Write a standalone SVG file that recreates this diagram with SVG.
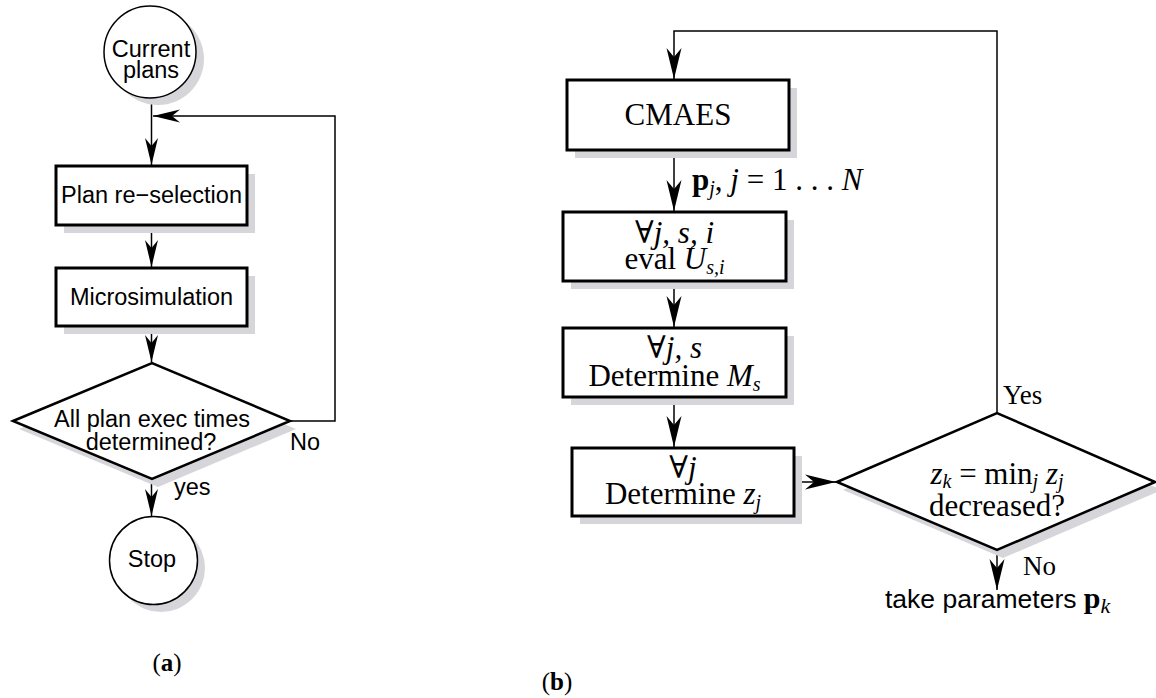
<svg xmlns="http://www.w3.org/2000/svg" width="1156" height="698" viewBox="0 0 1156 698">
<style>
.bg{fill:#ffffff}
.node{fill:#ffffff;stroke:#000000;stroke-width:3}
.dia{fill:#ffffff;stroke:#000000;stroke-width:2.5}
.circ{fill:#ffffff;stroke:#000000;stroke-width:1.5}
.sh{fill:#d6d5da;stroke:none}
.edge{fill:none;stroke:#000000;stroke-width:1.5}
.sans{font-family:"Liberation Sans",Arial,sans-serif;font-size:23.5px;fill:#000000}
.serif{font-family:"Liberation Serif","DejaVu Serif",serif;font-size:31px;fill:#000000}
.lbl{font-family:"Liberation Serif","DejaVu Serif",serif;font-size:27px;fill:#000000}
.tp{font-family:"Liberation Sans",Arial,sans-serif;font-size:26.5px;fill:#000000}
.cap{font-family:"Liberation Serif","DejaVu Serif",serif;font-size:25px;fill:#000000}
.it{font-style:italic}
.bf{font-weight:bold}
.sub{font-size:20px}
</style>
<defs>
<marker id="arr" markerUnits="userSpaceOnUse" markerWidth="30" markerHeight="16" refX="27" refY="7" orient="auto">
<path d="M27,7 L0,0.5 L8,7 L0,13.5 Z" fill="#000000"/>
</marker>
<marker id="arr2" markerUnits="userSpaceOnUse" markerWidth="34" markerHeight="18" refX="31" refY="8" orient="auto">
<path d="M31,8 L0,0.5 L9,8 L0,15.5 Z" fill="#000000"/>
</marker>
</defs>
<rect class="bg" x="0" y="0" width="1156" height="698"/>

<g id="edges">
<line class="edge" x1="151.5" y1="98" x2="151.5" y2="165" marker-end="url(#arr)"/>
<polyline class="edge" points="290,421 335,421 335,116 153,116" marker-end="url(#arr)"/>
<line class="edge" x1="151.5" y1="225" x2="151.5" y2="267" marker-end="url(#arr)"/>
<line class="edge" x1="151.5" y1="326" x2="151.5" y2="362" marker-end="url(#arr)"/>
<line class="edge" x1="151.5" y1="479" x2="151.5" y2="516" marker-end="url(#arr)"/>
<polyline class="edge" points="997,413 997,31 674,31 674,79" marker-end="url(#arr2)"/>
<line class="edge" x1="674" y1="150" x2="674" y2="211" marker-end="url(#arr2)"/>
<line class="edge" x1="674" y1="281" x2="674" y2="327" marker-end="url(#arr2)"/>
<line class="edge" x1="674" y1="397" x2="674" y2="447" marker-end="url(#arr2)"/>
<line class="edge" x1="794" y1="482" x2="836" y2="482" marker-end="url(#arr2)"/>
<line class="edge" x1="997" y1="550" x2="997" y2="590" marker-end="url(#arr2)"/>
</g>

<g id="current-plans">
<circle class="sh" cx="158" cy="59" r="46"/>
<circle class="circ" cx="150" cy="52" r="46"/>
<text class="sans" x="151" y="57" text-anchor="middle">Current</text>
<text class="sans" x="151" y="78" text-anchor="middle">plans</text>
</g>

<g id="plan-reselection">
<rect class="sh" x="64" y="174" width="191" height="59"/>
<rect class="node" x="56" y="166" width="191" height="59"/>
<text class="sans" x="151.5" y="203" text-anchor="middle">Plan re−selection</text>
</g>

<g id="microsimulation">
<rect class="sh" x="64" y="276" width="191" height="58"/>
<rect class="node" x="56" y="268" width="191" height="58"/>
<text class="sans" x="151.5" y="305" text-anchor="middle">Microsimulation</text>
</g>

<g id="decision-a">
<polygon class="sh" points="19,429 158,371 296,429 158,487"/>
<polygon class="dia" points="13,421 152,363 290,421 152,479"/>
<text class="sans" x="152" y="427" text-anchor="middle">All plan exec times</text>
<text class="sans" x="151" y="450" text-anchor="middle">determined?</text>
<text class="sans" x="290" y="450">No</text>
<text class="sans" x="174" y="495">yes</text>
</g>

<g id="stop">
<circle class="sh" cx="161" cy="568" r="44"/>
<circle class="circ" cx="153.5" cy="560.5" r="44"/>
<text class="sans" x="152" y="567" text-anchor="middle">Stop</text>
</g>

<text class="cap" x="167" y="671" text-anchor="middle">(<tspan class="bf">a</tspan>)</text>

<g id="cmaes">
<rect class="sh" x="575" y="88" width="222" height="70"/>
<rect class="node" x="567" y="80" width="222" height="70"/>
<text class="serif" x="678" y="125" text-anchor="middle">CMAES</text>
</g>

<text id="pj-label" class="serif" x="692" y="190" font-size="32"><tspan class="bf">p</tspan><tspan class="it sub" baseline-shift="-5">j</tspan>, <tspan class="it">j</tspan> = 1 . . . <tspan class="it">N</tspan></text>

<g id="eval-u">
<rect class="sh" x="571" y="220" width="223" height="69"/>
<rect class="node" x="563" y="212" width="223" height="69"/>
<text class="serif" x="674.5" y="243" text-anchor="middle">∀<tspan class="it">j, s, i</tspan></text>
<text class="serif" x="674.5" y="269" text-anchor="middle">eval <tspan class="it">U</tspan><tspan class="it sub" baseline-shift="-5">s,i</tspan></text>
</g>

<g id="determine-m">
<rect class="sh" x="571" y="336" width="223" height="69"/>
<rect class="node" x="563" y="328" width="223" height="69"/>
<text class="serif" x="674.5" y="358" text-anchor="middle">∀<tspan class="it">j, s</tspan></text>
<text class="serif" x="674.5" y="386" text-anchor="middle" font-size="32">Determine <tspan class="it">M</tspan><tspan class="it sub" baseline-shift="-5">s</tspan></text>
</g>

<g id="determine-z">
<rect class="sh" x="580" y="456" width="222" height="68"/>
<rect class="node" x="572" y="448" width="222" height="68"/>
<text class="serif" x="683" y="478" text-anchor="middle">∀<tspan class="it">j</tspan></text>
<text class="serif" x="683" y="504" text-anchor="middle" font-size="32">Determine <tspan class="it">z</tspan><tspan class="it sub" baseline-shift="-5">j</tspan></text>
</g>

<g id="decision-b">
<polygon class="sh" points="843,490 1003,421 1162,490 1003,558"/>
<polygon class="dia" points="837,482 997,413 1155,482 997,550"/>
<text class="serif" x="997" y="484" text-anchor="middle" font-size="32"><tspan class="it">z</tspan><tspan class="it sub" baseline-shift="-4">k</tspan> = min<tspan class="it sub" baseline-shift="-4">j</tspan> <tspan class="it">z</tspan><tspan class="it sub" baseline-shift="-4">j</tspan></text>
<text class="serif" x="997" y="516" text-anchor="middle" font-size="32">decreased?</text>
<text class="lbl" x="1003" y="404">Yes</text>
<text class="lbl" x="1023" y="575">No</text>
</g>

<text id="take-params" class="tp" x="885" y="608">take parameters <tspan class="bf" font-family="Liberation Serif, serif" font-size="30">p</tspan><tspan class="it" font-family="Liberation Serif, serif" font-size="22" baseline-shift="-5">k</tspan></text>

<text class="cap" x="557" y="690" text-anchor="middle">(<tspan class="bf">b</tspan>)</text>
</svg>
